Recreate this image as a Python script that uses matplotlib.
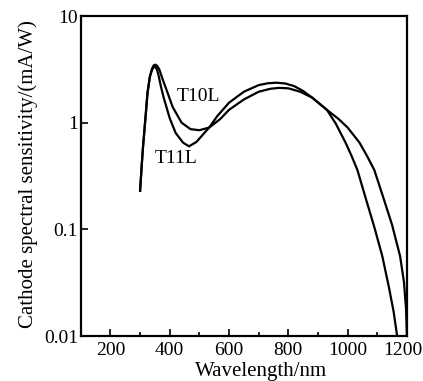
import matplotlib
matplotlib.use('Agg')
import matplotlib.pyplot as plt
import matplotlib.transforms as mtransforms
from matplotlib.ticker import FixedLocator, NullLocator

plt.rcParams['font.family'] = ['Liberation Serif', 'DejaVu Serif']

# T10L: wavelength (nm) / sensitivity (mA/W)
t10l_wl = [300, 305, 310, 318, 325, 333, 340, 346, 352, 358, 365, 375, 390, 410, 440, 470, 500,
           533, 570, 600, 650, 700, 740, 770, 800, 840, 880, 930, 970, 1000, 1040, 1065, 1090,
           1120, 1150, 1177, 1190, 1197, 1200]
t10l_val = [0.23, 0.38, 0.6, 1.1, 1.9, 2.7, 3.2, 3.45, 3.5, 3.4, 3.15, 2.6, 2.0, 1.4, 1.0, 0.87, 0.85,
            0.9, 1.08, 1.32, 1.65, 1.95, 2.08, 2.12, 2.1, 1.95, 1.72, 1.32, 1.08, 0.9, 0.65, 0.49, 0.36,
            0.2, 0.11, 0.056, 0.032, 0.018, 0.01]

# T11L
t11l_wl = [300, 305, 310, 318, 325, 333, 340, 345, 350, 356, 362, 370, 380, 400, 420, 445, 465,
           490, 520, 533, 560, 600, 650, 700, 730, 760, 790, 820, 850, 880, 930, 960, 993,
           1013, 1033, 1060, 1090, 1117, 1140, 1155, 1167]
t11l_val = [0.23, 0.38, 0.6, 1.1, 1.9, 2.7, 3.1, 3.3, 3.35, 3.2, 2.8, 2.2, 1.7, 1.1, 0.8, 0.65, 0.6,
            0.66, 0.82, 0.9, 1.15, 1.54, 1.95, 2.25, 2.34, 2.37, 2.33, 2.2, 1.98, 1.72, 1.32, 0.98, 0.65,
            0.49, 0.36, 0.2, 0.105, 0.056, 0.028, 0.017, 0.01]

x_ticks = [200, 400, 600, 800, 1000, 1200]
x_minor = [300, 500, 700, 900, 1100]
y_ticks = [0.01, 0.1, 1, 10]
y_labels = ['0.01', '0.1', '1', '10']

fig = plt.figure(figsize=(4.23, 3.81), dpi=100)
ax = fig.add_axes([0.191, 0.118, 0.771, 0.840])

ax.plot(t10l_wl, t10l_val, color='black', lw=1.6)
ax.plot(t11l_wl, t11l_val, color='black', lw=1.6)

ax.set_yscale('log')
ax.set_xlim(100, 1200)
ax.set_ylim(0.01, 10)

ax.set_xticks(x_ticks)
ax.xaxis.set_minor_locator(FixedLocator(x_minor))
ax.set_yticks(y_ticks)
ax.set_yticklabels(y_labels)
ax.yaxis.set_minor_locator(NullLocator())

ax.tick_params(which='both', direction='in', labelsize=14, width=1.2)
ax.tick_params(which='major', length=5)
ax.tick_params(which='minor', length=3)
ax.tick_params(axis='x', pad=4)
ax.tick_params(axis='y', pad=2)
for s in ax.spines.values():
    s.set_linewidth(1.6)

# nudge the last x label so it stays inside the picture
last = ax.get_xticklabels()[-1]
last.set_transform(last.get_transform() + mtransforms.ScaledTranslation(-4 / 100, 0, fig.dpi_scale_trans))

ax.text(497, 1.75, 'T10L', fontsize=14, ha='center', va='center')
ax.text(423, 0.46, 'T11L', fontsize=14, ha='center', va='center')

ax.set_xlabel('Wavelength/nm', fontsize=15)
ax.xaxis.set_label_coords(0.552, -0.08)
ax.set_ylabel('Cathode spectral sensitivity/(mA/W)', fontsize=15)
ax.yaxis.set_label_coords(-0.13, 0.505)

fig.savefig('out.png', dpi=100)
